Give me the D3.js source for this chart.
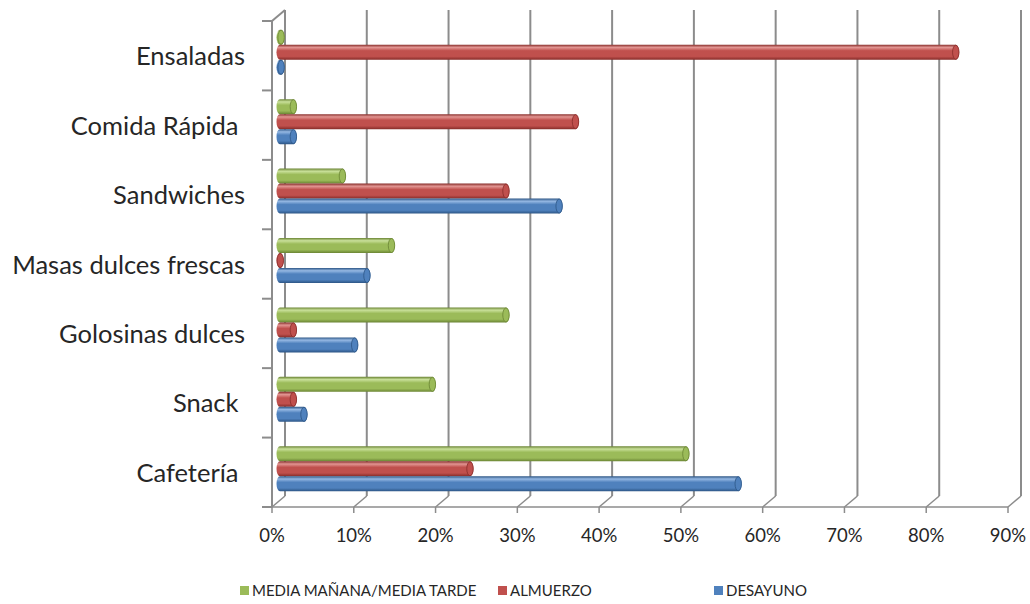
<!DOCTYPE html>
<html>
<head>
<meta charset="utf-8">
<script src="https://cdn.jsdelivr.net/npm/d3@7"></script>
<style>
  body { margin: 0; background: #fff; }
  text { font-family: Lato, "Open Sans", sans-serif; fill: #262626; }
</style>
</head>
<body>
<svg id="vis-svg" width="1030" height="604"></svg>
<script>

// Data
var categories = ["Ensaladas", "Comida Rápida ", "Sandwiches", "Masas dulces frescas", "Golosinas dulces", "Snack ", "Cafetería "];
var seriesNames = ["MEDIA MAÑANA/MEDIA TARDE", "ALMUERZO", "DESAYUNO"];
var mediaValues    = [0.5, 2, 8, 14, 28, 19, 50];
var almuerzoValues = [83, 36.5, 28, 0.4, 2, 2, 23.6];
var desayunoValues = [0.5, 2, 34.5, 11, 9.5, 3.3, 56.4];
var xTicks = [0, 10, 20, 30, 40, 50, 60, 70, 80, 90];

var seriesColors = [
  {base: "#9bbb59", light: "#c9e09a", dark: "#6a8433"},
  {base: "#c0504d", light: "#e29592", dark: "#862c29"},
  {base: "#4f81bd", light: "#95b8e3", dark: "#2c5585"}
];

var data = categories.map(function(c, i) {
  return {cat: c, values: [mediaValues[i], almuerzoValues[i], desayunoValues[i]]};
});

var svg = d3.select('#vis-svg');

// 3D depth offsets
var depthX = 13, depthY = -11;   // back wall
var barDX = 5, barDY = -3.5;     // bars sit in the middle

// Scales (front plane)
var xScale = d3.scaleLinear().domain([0, 90]).range([272, 1008]);
var yScale = d3.scaleBand().domain(categories).range([21, 507]);
var innerScale = d3.scaleBand().domain(d3.range(3)).range([-22.5, 22.5]);

// gradients for cylinders
var defs = svg.append('defs');
seriesColors.forEach(function(c, i) {
  var g = defs.append('linearGradient')
    .attr('id', 'grad' + i)
    .attr('x1', 0).attr('y1', 0).attr('x2', 0).attr('y2', 1);
  g.append('stop').attr('offset', '0%').attr('stop-color', c.dark);
  g.append('stop').attr('offset', '18%').attr('stop-color', c.light);
  g.append('stop').attr('offset', '40%').attr('stop-color', c.base);
  g.append('stop').attr('offset', '78%').attr('stop-color', c.base);
  g.append('stop').attr('offset', '100%').attr('stop-color', c.dark);
});

var grid = svg.append('g');
var gridColor = '#8c8c8c';

// back wall gridlines
grid.selectAll('.vgrid').data(xTicks).enter().append('line')
  .attr('x1', function(d){ return xScale(d) + depthX; })
  .attr('x2', function(d){ return xScale(d) + depthX; })
  .attr('y1', 10)
  .attr('y2', 507 + depthY)
  .attr('stroke', gridColor).attr('stroke-width', 2);

// floor diagonals
grid.selectAll('.fdiag').data(xTicks).enter().append('line')
  .attr('x1', function(d){ return xScale(d); })
  .attr('x2', function(d){ return xScale(d) + depthX; })
  .attr('y1', 507)
  .attr('y2', 507 + depthY)
  .attr('stroke', gridColor).attr('stroke-width', 1.5);

// front floor line + ticks
grid.append('line')
  .attr('x1', xScale(0)).attr('x2', xScale(90))
  .attr('y1', 507).attr('y2', 507)
  .attr('stroke', gridColor).attr('stroke-width', 1.5);
grid.selectAll('.xtick').data(xTicks).enter().append('line')
  .attr('x1', function(d){ return xScale(d); })
  .attr('x2', function(d){ return xScale(d); })
  .attr('y1', 507).attr('y2', 513)
  .attr('stroke', gridColor).attr('stroke-width', 1.5);

// left axis
grid.append('line')
  .attr('x1', xScale(0)).attr('x2', xScale(0))
  .attr('y1', 21).attr('y2', 507)
  .attr('stroke', gridColor).attr('stroke-width', 2);
grid.append('line')
  .attr('x1', xScale(0)).attr('x2', xScale(0) + depthX)
  .attr('y1', 21).attr('y2', 21 + depthY)
  .attr('stroke', gridColor).attr('stroke-width', 2);
var catTicks = categories.map(function(c){ return yScale(c); }).concat([507]);
grid.selectAll('.ytick').data(catTicks).enter().append('line')
  .attr('x1', xScale(0) - 10).attr('x2', xScale(0))
  .attr('y1', function(d){ return d; })
  .attr('y2', function(d){ return d; })
  .attr('stroke', gridColor).attr('stroke-width', 2);

// X tick labels
svg.selectAll('.xlabel').data(xTicks).enter().append('text')
  .attr('x', function(d){ return xScale(d); })
  .attr('y', 542)
  .attr('text-anchor', 'middle')
  .style('font-size', '18.5px')
  .text(function(d){ return d + '%'; });

// Category labels
svg.selectAll('.ylabel').data(categories).enter().append('text')
  .attr('x', 245)
  .attr('y', function(d){ return yScale(d) + yScale.bandwidth() / 2 + 9.5; })
  .attr('text-anchor', 'end')
  .attr('xml:space', 'preserve')
  .style('white-space', 'pre')
  .style('font-size', '25.5px')
  .text(function(d){ return d; });

// Bars (cylinders)
var barH = 15;
var groups = svg.selectAll('.cat').data(data).enter().append('g')
  .attr('transform', function(d){
    return 'translate(0,' + (yScale(d.cat) + yScale.bandwidth() / 2 + barDY) + ')';
  });

groups.each(function(d) {
  var g = d3.select(this);
  d.values.forEach(function(v, i) {
    var x0 = xScale(0) + barDX + 3;
    var x1 = xScale(v) + barDX;
    if (x1 < x0) x1 = x0;
    var yc = innerScale(i) + innerScale.bandwidth() / 2;
    var c = seriesColors[i];
    g.append('path')
      .attr('d', 'M' + x0 + ',' + (yc - barH / 2) +
                 ' L' + x1 + ',' + (yc - barH / 2) +
                 ' A3.5,' + (barH / 2) + ' 0 0 1 ' + x1 + ',' + (yc + barH / 2) +
                 ' L' + x0 + ',' + (yc + barH / 2) +
                 ' A3.5,' + (barH / 2) + ' 0 0 1 ' + x0 + ',' + (yc - barH / 2) + 'Z')
      .attr('fill', 'url(#grad' + i + ')');
    g.append('ellipse')
      .attr('cx', x1).attr('cy', yc)
      .attr('rx', 3.2).attr('ry', barH / 2 - 0.5)
      .attr('fill', c.base)
      .attr('stroke', c.dark).attr('stroke-width', 0.8);
  });
});

// Legend
var legendItems = [
  {name: seriesNames[0], x: 240},
  {name: seriesNames[1], x: 498},
  {name: seriesNames[2], x: 714}
];
var legend = svg.selectAll('.legend').data(legendItems).enter().append('g')
  .attr('transform', function(d){ return 'translate(' + d.x + ',591)'; });
legend.append('rect')
  .attr('x', 0).attr('y', -5)
  .attr('width', 9).attr('height', 9)
  .attr('fill', function(d, i){ return seriesColors[i].base; });
legend.append('text')
  .attr('x', 12).attr('y', 0)
  .attr('dy', '0.35em')
  .style('font-size', '15px')
  .text(function(d){ return d.name; });

</script>
</body>
</html>
